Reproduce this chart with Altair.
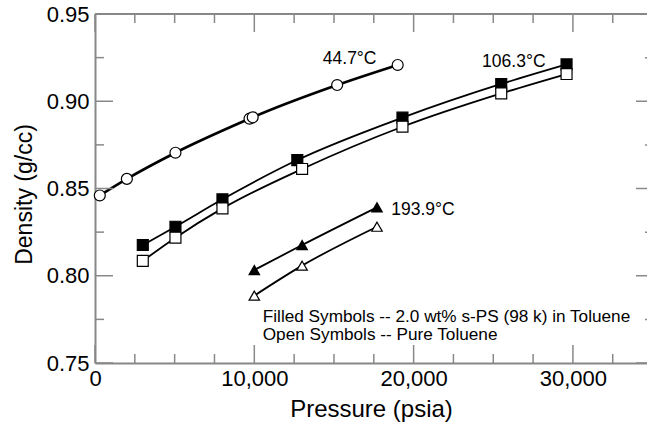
import altair as alt
import pandas as pd

# ---- data ----
t44_p = [300, 2000, 5050, 9700, 9900, 15200, 19000]
t44_d = [0.8460, 0.8555, 0.8705, 0.8900, 0.8908, 0.9093, 0.9208]

sqf_p = [3000, 5050, 8000, 12700, 19300, 25500, 29600]
sqf_d = [0.8176, 0.8281, 0.8438, 0.8663, 0.8906, 0.9099, 0.9211]
sqo_p = [3000, 5050, 8000, 13000, 19300, 25500, 29600]
sqo_d = [0.8085, 0.8218, 0.8386, 0.8612, 0.8854, 0.9045, 0.9156]

trf_p = [10000, 13000, 17700]
trf_d = [0.8033, 0.8176, 0.8392]
tro_p = [10000, 13000, 17700]
tro_d = [0.7886, 0.8058, 0.8281]

temp_labels = ["44.7°C", "106.3°C", "193.9°C"]
temp_x = [14300, 24300, 18600]
temp_y = [0.9213, 0.9196, 0.8348]

note_lines = ["Filled Symbols -- 2.0 wt% s-PS (98 k) in Toluene", "Open Symbols -- Pure Toluene"]
note_x = [10530, 10530]
note_y = [0.7737, 0.7630]

x_major = [0, 10000, 20000, 30000]
x_minor = [2500, 5000, 7500, 12500, 15000, 17500, 22500, 25000, 27500, 32500]
y_major = [0.75, 0.80, 0.85, 0.90, 0.95]
y_minor = [0.775, 0.825, 0.875, 0.925]

W, H = 552, 349
GRAY = "#888888"
FONT = "Liberation Sans"

xs = alt.Scale(domain=[0, 34650], nice=False, zero=False)
ys = alt.Scale(domain=[0.75, 0.95], nice=False, zero=False)

def df(p, d):
    return pd.DataFrame({"p": p, "d": d})

X = alt.X("p:Q", scale=xs, title="Pressure (psia)",
          axis=alt.Axis(values=x_major, format=",d", ticks=False, grid=False,
                        domainColor=GRAY, domainWidth=2, labelFontSize=22,
                        labelPadding=5, titleFontSize=24, titlePadding=8,
                        titleFontWeight="normal", labelColor="black", titleColor="black",
                        labelFont=FONT, titleFont=FONT, labelFlush=False, labelOverlap=False))
Y = alt.Y("d:Q", scale=ys, title="Density (g/cc)",
          axis=alt.Axis(values=y_major, format=".2f", ticks=False, grid=False,
                        domainColor=GRAY, domainWidth=2, labelFontSize=22,
                        labelPadding=6, titleFontSize=23, titlePadding=10, titleY=180,
                        titleFontWeight="normal", labelColor="black", titleColor="black",
                        labelFont=FONT, titleFont=FONT, labelFlush=False, labelOverlap=False))

layers = []

# lines
layers.append(alt.Chart(df(t44_p, t44_d)).mark_line(color="black", strokeWidth=2.6, interpolate="monotone").encode(x=X, y=Y))
for p, d in [(sqf_p, sqf_d), (sqo_p, sqo_d), (trf_p, trf_d), (tro_p, tro_d)]:
    layers.append(alt.Chart(df(p, d)).mark_line(color="black", strokeWidth=1.8, interpolate="monotone").encode(x=X, y=Y))

# markers
layers.append(alt.Chart(df(t44_p, t44_d)).mark_point(shape="circle", size=120, filled=True, fill="white", stroke="black", strokeWidth=1.2, opacity=1).encode(x=X, y=Y))
layers.append(alt.Chart(df(sqf_p, sqf_d)).mark_point(shape="square", size=120, filled=True, fill="black", stroke="black", strokeWidth=1.2, opacity=1).encode(x=X, y=Y))
layers.append(alt.Chart(df(sqo_p, sqo_d)).mark_point(shape="square", size=120, filled=True, fill="white", stroke="black", strokeWidth=1.2, opacity=1).encode(x=X, y=Y))
layers.append(alt.Chart(df(trf_p, trf_d)).mark_point(shape="triangle-up", size=110, filled=True, fill="black", stroke="black", strokeWidth=1.2, opacity=1).encode(x=X, y=Y))
layers.append(alt.Chart(df(tro_p, tro_d)).mark_point(shape="triangle-up", size=110, filled=True, fill="white", stroke="black", strokeWidth=1.2, opacity=1).encode(x=X, y=Y))

# labels
lab = pd.DataFrame({"p": temp_x, "d": temp_y, "t": temp_labels})
layers.append(alt.Chart(lab).mark_text(align="left", baseline="alphabetic", fontSize=17.5, font=FONT, color="black").encode(x=X, y=Y, text="t:N"))
note = pd.DataFrame({"p": note_x, "d": note_y, "t": note_lines})
layers.append(alt.Chart(note).mark_text(align="left", baseline="alphabetic", fontSize=17.2, font=FONT, color="black").encode(x=X, y=Y, text="t:N"))

# inward ticks
tk = dict(color=GRAY, strokeWidth=1.5)
layers.append(alt.Chart(pd.DataFrame({"p": x_major})).mark_rule(**tk).encode(x=X, y=alt.value(H), y2=alt.value(H - 18)))
layers.append(alt.Chart(pd.DataFrame({"p": x_minor})).mark_rule(**tk).encode(x=X, y=alt.value(H), y2=alt.value(H - 9)))
layers.append(alt.Chart(pd.DataFrame({"p": x_major})).mark_rule(**tk).encode(x=X, y=alt.value(0), y2=alt.value(18)))
layers.append(alt.Chart(pd.DataFrame({"p": x_minor})).mark_rule(**tk).encode(x=X, y=alt.value(0), y2=alt.value(9)))
layers.append(alt.Chart(pd.DataFrame({"d": y_major})).mark_rule(**tk).encode(y=Y, x=alt.value(0), x2=alt.value(18)))
layers.append(alt.Chart(pd.DataFrame({"d": y_minor})).mark_rule(**tk).encode(y=Y, x=alt.value(0), x2=alt.value(9)))
layers.append(alt.Chart(pd.DataFrame({"d": y_major})).mark_rule(**tk).encode(y=Y, x=alt.value(W), x2=alt.value(W - 11)))
layers.append(alt.Chart(pd.DataFrame({"d": y_minor})).mark_rule(**tk).encode(y=Y, x=alt.value(W), x2=alt.value(W - 2)))
# top border
layers.append(alt.Chart(pd.DataFrame({"d": [0.95]})).mark_rule(color=GRAY, strokeWidth=2).encode(y=Y, x=alt.value(0), x2=alt.value(W)))

chart = alt.layer(*layers).properties(
    width=W, height=H,
    autosize=alt.AutoSizeParams(type="none"),
    padding={"left": 95, "top": 14, "right": 0, "bottom": 64},
).configure_view(stroke=None).configure(background="white")

chart.save("out.html", embed_options={"renderer": "svg", "actions": False})
